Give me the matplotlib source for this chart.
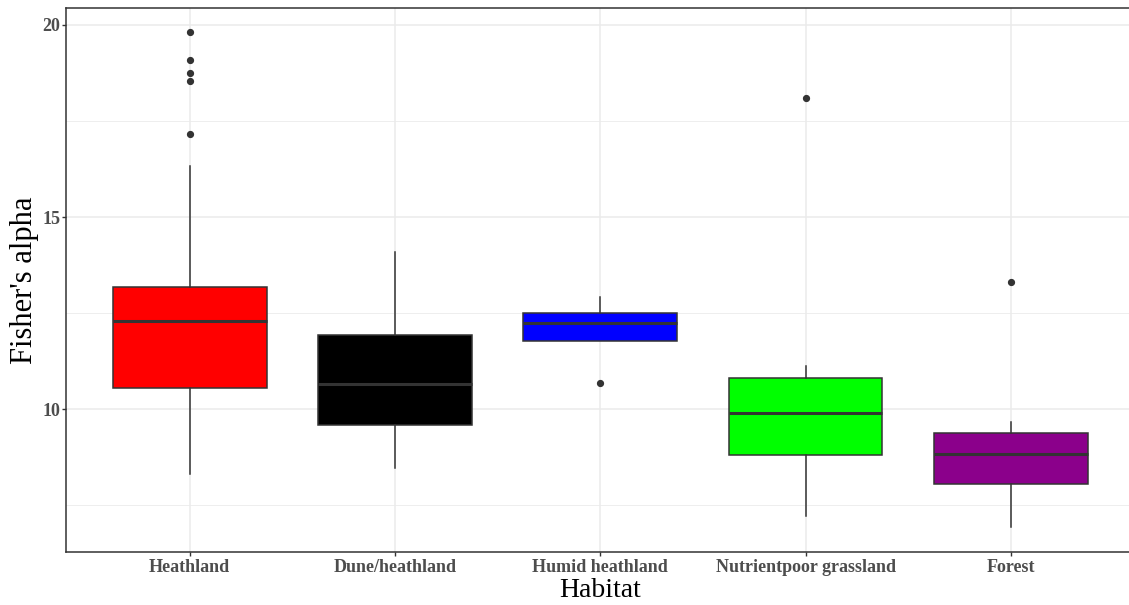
import matplotlib
matplotlib.use("Agg")
import matplotlib.pyplot as plt
from matplotlib.ticker import MultipleLocator

plt.rcParams['font.family'] = ['Liberation Serif', 'DejaVu Serif']

habitats = ["Heathland", "Dune/heathland", "Humid heathland",
            "Nutrientpoor grassland", "Forest"]
fills = ["#FF0000", "#000000", "#0000FF", "#00FF00", "#8B008B"]

# five-number summaries of Fisher's alpha per habitat
whislo = [8.31, 8.46, 11.77, 7.21, 6.92]
q1 = [10.56, 9.59, 11.77, 8.81, 8.05]
med = [12.29, 10.66, 12.25, 9.90, 8.83]
q3 = [13.17, 11.93, 12.50, 10.82, 9.38]
whishi = [16.34, 14.08, 12.91, 11.13, 9.65]
fliers = [[19.82, 19.09, 18.76, 18.55, 17.15],
          [],
          [10.67],
          [18.09],
          [13.32]]

stats = []
for i, name in enumerate(habitats):
    stats.append(dict(label=name, whislo=whislo[i], q1=q1[i], med=med[i],
                      q3=q3[i], whishi=whishi[i], fliers=fliers[i]))

fig = plt.figure(figsize=(11.29, 6.05), dpi=100)
ax = fig.add_axes([0.0589, 0.0871, 0.9455, 0.9002])

pos = list(range(1, len(habitats) + 1))
bp = ax.bxp(stats, positions=pos, widths=0.75, patch_artist=True,
            showcaps=False,
            boxprops=dict(edgecolor="#333333", linewidth=1.1),
            medianprops=dict(color="#333333", linewidth=2.2),
            whiskerprops=dict(color="#333333", linewidth=1.1),
            flierprops=dict(marker="o", markerfacecolor="#333333",
                            markeredgecolor="#333333", markersize=4.2,
                            linestyle="none"),
            zorder=3)
for patch, c in zip(bp["boxes"], fills):
    patch.set_facecolor(c)

ax.set_xlim(0.4, 5.6)
ax.set_ylim(6.27, 20.45)
ax.yaxis.set_major_locator(MultipleLocator(5))
ax.yaxis.set_minor_locator(MultipleLocator(2.5))
ax.set_xticks(pos)
ax.set_xticklabels(habitats)

ax.grid(True, which="major", color="#EBEBEB", linewidth=1.1, zorder=0)
ax.grid(True, which="minor", axis="y", color="#EBEBEB", linewidth=0.6, zorder=0)
ax.set_axisbelow(True)

for s in ax.spines.values():
    s.set_color("#333333")
    s.set_linewidth(1.1)

ax.tick_params(axis="both", which="major", direction="out", length=3,
               width=1.0, color="#333333", pad=1.5, labelsize=13,
               labelcolor="#4D4D4D")
ax.tick_params(axis="y", which="minor", length=0)
for lab in ax.get_xticklabels() + ax.get_yticklabels():
    lab.set_fontweight("bold")

ax.set_xlabel("Habitat", fontsize=20, labelpad=1.5)
ax.set_ylabel("Fisher's alpha", fontsize=22, labelpad=2)

fig.savefig("out.png", dpi=100)
